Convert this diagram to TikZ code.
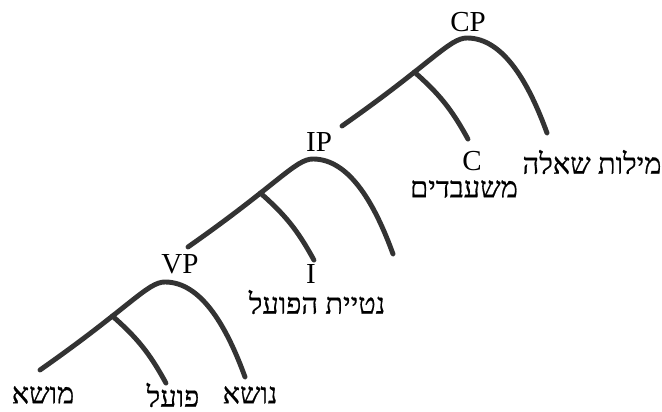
\documentclass[tikz,border=0pt]{standalone}
\usepackage{fontspec}
\setmainfont{Liberation Serif}
\newfontfamily\hebfont[Script=Hebrew,FakeBold=0.6]{Liberation Serif}
\TeXXeTstate=1
\usetikzlibrary{positioning}
\definecolor{cLine}{RGB}{51,51,51}
\tikzset{
	cat/.style={inner sep=0pt, font=\fontsize{16.5}{18}\selectfont},
	word/.style={inner sep=0pt, font=\fontsize{16.5}{18}\selectfont\hebfont},
	branch/.style={draw=cLine, line width=2.8pt, line cap=round},
}
\begin{document}
\begin{tikzpicture}
	\useasboundingbox (0,0) rectangle (13.24,8.24);
	% one arc per phrase, same shape, shifted
	\foreach \n/\x/\y in {cp/6.84/5.72, ip/3.76/3.30, vp/0.80/0.84}{
		\coordinate (\n-l) at (\x,\y);
		\draw[branch] (\n-l) .. controls +(35:2.2) and +(-0.35,0) .. coordinate[pos=0.36] (\n-j) ++(2.5,1.76) coordinate (\n-top)
			.. controls +(0.75,0) and +(110:1.0) .. ++(1.6,-1.9) coordinate (\n-r);
		\draw[branch] (\n-j) to[bend left=10] ++(1.07,-1.34) coordinate (\n-e);
	}
	% labels
	\node[cat] (CP) at (9.36,7.80) {CP};
	\node[cat] (C) at (9.44,5.02) {C};
	\node[word] (compl) at (9.28,4.46) {\beginR משעבדים\endR};
	\node[word] (wh) at (11.84,5.00) {\beginR מילות שאלה\endR};
	\node[cat] (IP) at (6.38,5.40) {IP};
	\node[cat] (I) at (6.22,2.76) {I};
	\node[word] (infl) at (6.34,2.20) {\beginR נטיית הפועל\endR};
	\node[cat] (VP) at (3.60,2.96) {VP};
	\node[word] (obj) at (0.86,0.34) {\beginR מושא\endR};
	\node[word] (verb) at (3.46,0.34) {\beginR פועל\endR};
	\node[word] (subj) at (5.00,0.34) {\beginR נושא\endR};
\end{tikzpicture}
\end{document}
